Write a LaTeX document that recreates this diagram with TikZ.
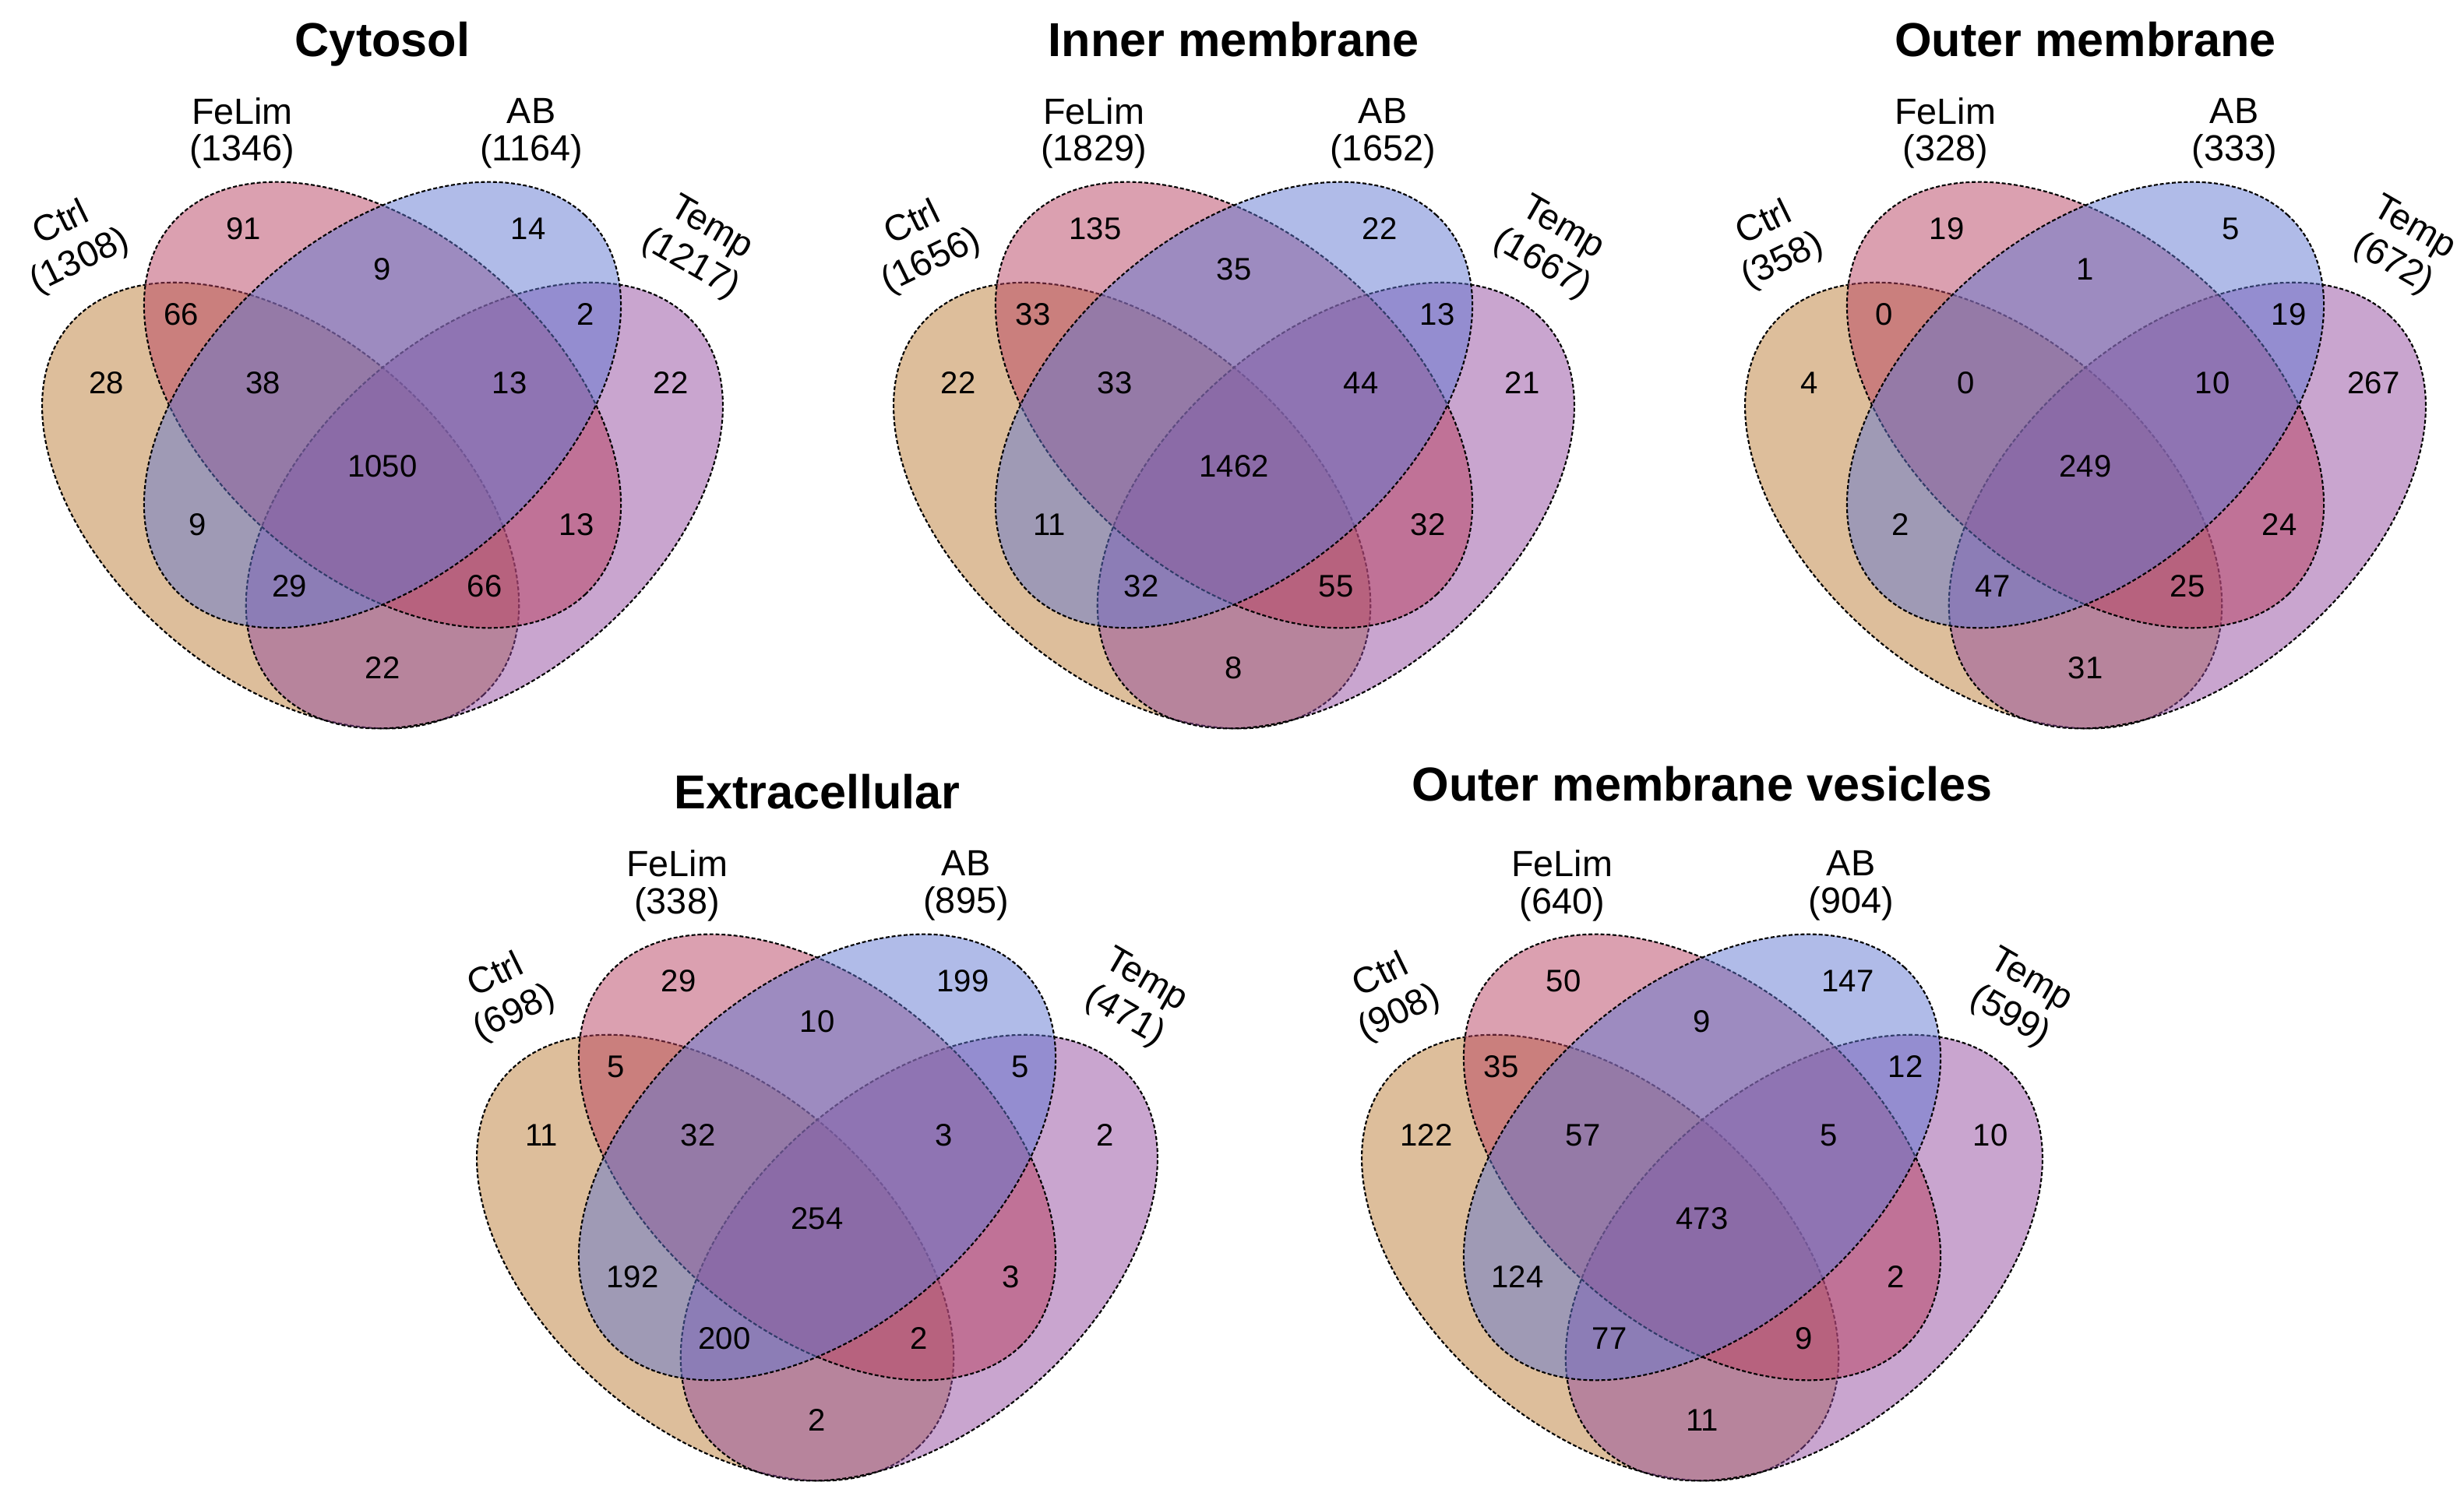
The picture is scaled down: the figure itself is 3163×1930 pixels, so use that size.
\documentclass[tikz,border=0pt]{standalone}
\usepackage{fontspec}
\setmainfont{Liberation Sans}
\usepackage{tikz}
\usetikzlibrary{positioning}

\definecolor{ctrlcol}{RGB}{187,125,55}
\definecolor{felimcol}{RGB}{183,65,97}
\definecolor{abcol}{RGB}{97,119,209}
\definecolor{tempcol}{RGB}{147,75,159}

\tikzset{
    vennset/.style={
      draw=black,
      line width=0.6pt,
      dash pattern=on 1.4pt off 0.8pt,
      fill opacity=0.5,
    },
    ctrlset/.style={vennset, fill=ctrlcol},
    felimset/.style={vennset, fill=felimcol},
    abset/.style={vennset, fill=abcol},
    tempset/.style={vennset, fill=tempcol},
    num/.style={inner sep=0pt, font=\fontsize{11.4}{13}\selectfont},
    cat/.style={inner sep=0pt, align=center, font=\fontsize{13.3}{13.6}\selectfont},
    tiltcat/.style={inner sep=0pt, align=center, font=\fontsize{13.3}{15.2}\selectfont},
    ttl/.style={inner sep=0pt, anchor=base, font=\fontsize{17.4}{20}\selectfont\bfseries},
}

% the four ellipses, centred on the FeLim/AB centre
\newcommand{\vennellipses}{%
  \begin{scope}[xscale=1.069]
    \draw[ctrlset, rotate around={-45:(-122.4,-129.1)}]
      (-122.4,-129.1) ellipse [x radius=344.2, y radius=213.2];
    \draw[tempset, rotate around={45:(122.4,-129.1)}]
      (122.4,-129.1) ellipse [x radius=344.2, y radius=213.2];
    \draw[felimset, rotate=-45]
      (0,0) ellipse [x radius=344.2, y radius=213.2];
    \draw[abset, rotate=45]
      (0,0) ellipse [x radius=344.2, y radius=213.2];
  \end{scope}}

\begin{document}
\begin{tikzpicture}[x=0.01cm, y=0.01cm]

    \useasboundingbox (0,0) rectangle (3163,1930);

    % Cytosol
    \begin{scope}[shift={(491,1410)}]
      \vennellipses
      \node[ttl] (cyt-title) at (0,447) {Cytosol};
      \node[cat] (cyt-felim) at (-180,349) {FeLim\\(1346)};
      \node[cat] (cyt-ab) at (191,349) {AB\\(1164)};
      \node[tiltcat, rotate=26] (cyt-ctrl) at (-400,208) {Ctrl\\(1308)};
      \node[tiltcat, rotate=-30] (cyt-temp) at (408,203) {Temp\\(1217)};
      \node[num] (cyt-n1) at (-178,226) {91};
      \node[num] (cyt-n2) at (187,226) {14};
      \node[num] (cyt-n3) at (0,174) {9};
      \node[num] (cyt-n4) at (-258,116) {66};
      \node[num] (cyt-n5) at (261,116) {2};
      \node[num] (cyt-n6) at (-354,28) {28};
      \node[num] (cyt-n7) at (-153,28) {38};
      \node[num] (cyt-n8) at (163,28) {13};
      \node[num] (cyt-n9) at (370,28) {22};
      \node[num] (cyt-n10) at (0,-79) {1050};
      \node[num] (cyt-n11) at (-237,-154) {9};
      \node[num] (cyt-n12) at (249,-154) {13};
      \node[num] (cyt-n13) at (-119,-233) {29};
      \node[num] (cyt-n14) at (131,-233) {66};
      \node[num] (cyt-n15) at (0,-338) {22};
    \end{scope}

    % Inner membrane
    \begin{scope}[shift={(1584,1410)}]
      \vennellipses
      \node[ttl] (inn-title) at (0,447) {Inner membrane};
      \node[cat] (inn-felim) at (-180,349) {FeLim\\(1829)};
      \node[cat] (inn-ab) at (191,349) {AB\\(1652)};
      \node[tiltcat, rotate=26] (inn-ctrl) at (-400,208) {Ctrl\\(1656)};
      \node[tiltcat, rotate=-30] (inn-temp) at (408,203) {Temp\\(1667)};
      \node[num] (inn-n1) at (-178,226) {135};
      \node[num] (inn-n2) at (187,226) {22};
      \node[num] (inn-n3) at (0,174) {35};
      \node[num] (inn-n4) at (-258,116) {33};
      \node[num] (inn-n5) at (261,116) {13};
      \node[num] (inn-n6) at (-354,28) {22};
      \node[num] (inn-n7) at (-153,28) {33};
      \node[num] (inn-n8) at (163,28) {44};
      \node[num] (inn-n9) at (370,28) {21};
      \node[num] (inn-n10) at (0,-79) {1462};
      \node[num] (inn-n11) at (-237,-154) {11};
      \node[num] (inn-n12) at (249,-154) {32};
      \node[num] (inn-n13) at (-119,-233) {32};
      \node[num] (inn-n14) at (131,-233) {55};
      \node[num] (inn-n15) at (0,-338) {8};
    \end{scope}

    % Outer membrane
    \begin{scope}[shift={(2677,1410)}]
      \vennellipses
      \node[ttl] (out-title) at (0,447) {Outer membrane};
      \node[cat] (out-felim) at (-180,349) {FeLim\\(328)};
      \node[cat] (out-ab) at (191,349) {AB\\(333)};
      \node[tiltcat, rotate=26] (out-ctrl) at (-400,208) {Ctrl\\(358)};
      \node[tiltcat, rotate=-30] (out-temp) at (408,203) {Temp\\(672)};
      \node[num] (out-n1) at (-178,226) {19};
      \node[num] (out-n2) at (187,226) {5};
      \node[num] (out-n3) at (0,174) {1};
      \node[num] (out-n4) at (-258,116) {0};
      \node[num] (out-n5) at (261,116) {19};
      \node[num] (out-n6) at (-354,28) {4};
      \node[num] (out-n7) at (-153,28) {0};
      \node[num] (out-n8) at (163,28) {10};
      \node[num] (out-n9) at (370,28) {267};
      \node[num] (out-n10) at (0,-79) {249};
      \node[num] (out-n11) at (-237,-154) {2};
      \node[num] (out-n12) at (249,-154) {24};
      \node[num] (out-n13) at (-119,-233) {47};
      \node[num] (out-n14) at (131,-233) {25};
      \node[num] (out-n15) at (0,-338) {31};
    \end{scope}

    % Extracellular
    \begin{scope}[shift={(1049,444)}]
      \vennellipses
      \node[ttl] (ext-title) at (0,447) {Extracellular};
      \node[cat] (ext-felim) at (-180,349) {FeLim\\(338)};
      \node[cat] (ext-ab) at (191,349) {AB\\(895)};
      \node[tiltcat, rotate=26] (ext-ctrl) at (-400,208) {Ctrl\\(698)};
      \node[tiltcat, rotate=-30] (ext-temp) at (408,203) {Temp\\(471)};
      \node[num] (ext-n1) at (-178,226) {29};
      \node[num] (ext-n2) at (187,226) {199};
      \node[num] (ext-n3) at (0,174) {10};
      \node[num] (ext-n4) at (-258,116) {5};
      \node[num] (ext-n5) at (261,116) {5};
      \node[num] (ext-n6) at (-354,28) {11};
      \node[num] (ext-n7) at (-153,28) {32};
      \node[num] (ext-n8) at (163,28) {3};
      \node[num] (ext-n9) at (370,28) {2};
      \node[num] (ext-n10) at (0,-79) {254};
      \node[num] (ext-n11) at (-237,-154) {192};
      \node[num] (ext-n12) at (249,-154) {3};
      \node[num] (ext-n13) at (-119,-233) {200};
      \node[num] (ext-n14) at (131,-233) {2};
      \node[num] (ext-n15) at (0,-338) {2};
    \end{scope}

    % Outer membrane vesicles
    \begin{scope}[shift={(2185,444)}]
      \vennellipses
      \node[ttl] (omv-title) at (0,457) {Outer membrane vesicles};
      \node[cat] (omv-felim) at (-180,349) {FeLim\\(640)};
      \node[cat] (omv-ab) at (191,349) {AB\\(904)};
      \node[tiltcat, rotate=26] (omv-ctrl) at (-400,208) {Ctrl\\(908)};
      \node[tiltcat, rotate=-30] (omv-temp) at (408,203) {Temp\\(599)};
      \node[num] (omv-n1) at (-178,226) {50};
      \node[num] (omv-n2) at (187,226) {147};
      \node[num] (omv-n3) at (0,174) {9};
      \node[num] (omv-n4) at (-258,116) {35};
      \node[num] (omv-n5) at (261,116) {12};
      \node[num] (omv-n6) at (-354,28) {122};
      \node[num] (omv-n7) at (-153,28) {57};
      \node[num] (omv-n8) at (163,28) {5};
      \node[num] (omv-n9) at (370,28) {10};
      \node[num] (omv-n10) at (0,-79) {473};
      \node[num] (omv-n11) at (-237,-154) {124};
      \node[num] (omv-n12) at (249,-154) {2};
      \node[num] (omv-n13) at (-119,-233) {77};
      \node[num] (omv-n14) at (131,-233) {9};
      \node[num] (omv-n15) at (0,-338) {11};
    \end{scope}

\end{tikzpicture}
\end{document}
